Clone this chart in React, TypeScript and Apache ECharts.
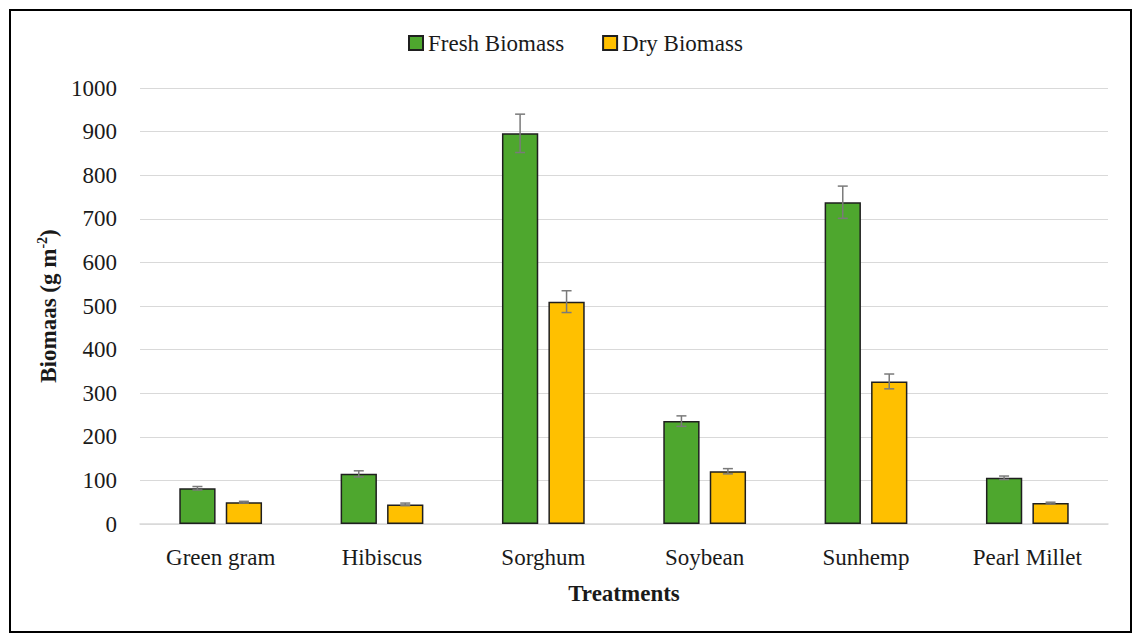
import React, { useEffect, useRef } from "react";
import * as echarts from "echarts";

const categories = ["Green gram", "Hibiscus", "Sorghum", "Soybean", "Sunhemp", "Pearl Millet"];
const freshBiomass = [82, 115, 896, 236, 738, 106];
const freshError = [4, 7, 44, 12, 37, 4];
const dryBiomass = [50, 45, 510, 121, 327, 48];
const dryError = [2, 3, 25, 6, 17, 2];
const yTicks = { min: 0, max: 1000, interval: 100 };

const FONT = "'Liberation Serif', 'DejaVu Serif', serif";
const TEXT = "#1a1a1a";
const GREEN = "#4ea72e";
const YELLOW = "#ffc000";
const BAR_W = 0.225;
const BAR_GAP = 0.28;
const FS = 23;

function errorRender(side: number) {
  return (params: any, api: any) => {
    const idx = api.value(0);
    const v = api.value(1);
    const e = api.value(2);
    const band = api.size([1, 0])[0];
    const bw = band * BAR_W;
    const gap = bw * BAR_GAP;
    const total = bw * 2 + gap;
    const c = api.coord([idx, v]);
    const cx = side < 0 ? c[0] - total / 2 + bw / 2 : c[0] + total / 2 - bw / 2;
    const top = api.coord([idx, v + e])[1];
    const bot = api.coord([idx, v - e])[1];
    const cap = 5;
    const style = { stroke: "#7a7a7a", lineWidth: 1.5 };
    return {
      type: "group",
      children: [
        { type: "line", shape: { x1: cx, y1: top, x2: cx, y2: bot }, style },
        { type: "line", shape: { x1: cx - cap, y1: top, x2: cx + cap, y2: top }, style },
        { type: "line", shape: { x1: cx - cap, y1: bot, x2: cx + cap, y2: bot }, style },
      ],
    };
  };
}

export default function App() {
  const ref = useRef<HTMLDivElement>(null);
  useEffect(() => {
    document.body.style.margin = "0";
    const chart = echarts.init(ref.current!, null, { renderer: "svg" });
    chart.setOption({
      animation: false,
      backgroundColor: "#ffffff",
      textStyle: { fontFamily: FONT, color: TEXT },
      graphic: [
        {
          type: "rect",
          shape: { x: 10, y: 10, width: 1121, height: 622 },
          style: { fill: "none", stroke: "#000", lineWidth: 2 },
          z: 100,
        },
      ],
      legend: {
        top: 26,
        left: 403,
        itemWidth: 14,
        itemHeight: 14,
        itemGap: 38,
        icon: "rect",
        data: ["Fresh Biomass", "Dry Biomass"],
        textStyle: { fontFamily: FONT, fontSize: FS, color: TEXT, lineHeight: 24 },
      },
      grid: { left: 140, right: 33, top: 88, bottom: 118, containLabel: false },
      xAxis: {
        type: "category",
        data: categories,
        name: "Treatments",
        nameLocation: "middle",
        nameGap: 58,
        nameTextStyle: { fontFamily: FONT, fontSize: FS, fontWeight: "bold", color: TEXT },
        axisLine: { lineStyle: { color: "#d9d9d9", width: 1.5 } },
        axisTick: { show: false },
        axisLabel: { fontFamily: FONT, fontSize: FS, color: TEXT, margin: 22 },
      },
      yAxis: {
        type: "value",
        min: yTicks.min,
        max: yTicks.max,
        interval: yTicks.interval,
        name: "{b|Biomaas (g m}{s|-2}{b|)}",
        nameLocation: "middle",
        nameGap: 69,
        nameRotate: 90,
        nameTextStyle: {
          rich: {
            b: { fontFamily: FONT, fontSize: FS, fontWeight: "bold", color: TEXT, lineHeight: 26, verticalAlign: "middle" },
            s: { fontFamily: FONT, fontSize: 14, fontWeight: "bold", color: TEXT, lineHeight: 26, verticalAlign: "top" },
          },
        },
        axisLine: { show: false },
        axisTick: { show: false },
        splitLine: { lineStyle: { color: "#d9d9d9", width: 1.2 } },
        axisLabel: { fontFamily: FONT, fontSize: FS, color: TEXT, margin: 23, formatter: (v: number) => String(v) },
      },
      series: [
        {
          name: "Fresh Biomass",
          type: "bar",
          data: freshBiomass,
          barWidth: `${BAR_W * 100}%`,
          barGap: `${BAR_GAP * 100}%`,
          itemStyle: { color: GREEN, borderColor: "#1f1f1f", borderWidth: 1.5 },
        },
        {
          name: "Dry Biomass",
          type: "bar",
          data: dryBiomass,
          barWidth: `${BAR_W * 100}%`,
          barGap: `${BAR_GAP * 100}%`,
          itemStyle: { color: YELLOW, borderColor: "#1f1f1f", borderWidth: 1.5 },
        },
        {
          type: "custom",
          name: "freshErr",
          data: freshBiomass.map((v, i) => [i, v, freshError[i]]),
          encode: { x: 0, y: 1 },
          renderItem: errorRender(-1),
          z: 10,
          silent: true,
        },
        {
          type: "custom",
          name: "dryErr",
          data: dryBiomass.map((v, i) => [i, v, dryError[i]]),
          encode: { x: 0, y: 1 },
          renderItem: errorRender(1),
          z: 10,
          silent: true,
        },
      ],
    });
    return () => chart.dispose();
  }, []);
  return <div ref={ref} style={{ width: 1141, height: 642 }} />;
}
